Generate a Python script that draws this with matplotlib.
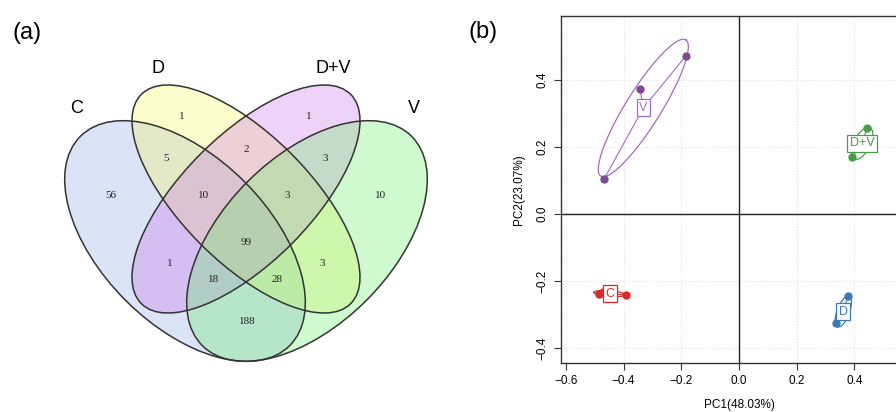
import matplotlib.pyplot as plt
from matplotlib.patches import Ellipse
import numpy as np

# ---- data ----
# venn set names and region counts
set_names = ["C", "D", "D+V", "V"]
region_keys = ["C", "D", "DV", "V", "CD", "DDV", "DVV", "CDDV", "DDVV",
               "CDDVV", "CDV", "DV_V", "CDVV", "CDV_V", "CV"]
region_counts = [56, 1, 1, 10, 5, 2, 3, 10, 3, 99, 1, 3, 18, 28, 188]

# PCA scores per group
groups = ["V", "D+V", "C", "D"]
pc1 = {"V": [-0.468, -0.343, -0.184],
       "D+V": [0.392, 0.444, 0.445],
       "C": [-0.486, -0.470, -0.390],
       "D": [0.336, 0.370, 0.378]}
pc2 = {"V": [0.104, 0.373, 0.472],
       "D+V": [0.170, 0.257, 0.205],
       "C": [-0.238, -0.233, -0.242],
       "D": [-0.326, -0.305, -0.244]}
pc1_label = "PC1(48.03%)"
pc2_label = "PC2(23.07%)"

# ---- layout / style ----
W, H = 896, 412
fig = plt.figure(figsize=(W / 100, H / 100), dpi=100)

# panel (a) in pixel coordinates
axa = fig.add_axes([0, 0, 450 / W, 1])
axa.set_xlim(0, 450)
axa.set_ylim(H, 0)
axa.axis("off")

venn_fill = ["#8aa5e4", "#f8f858", "#ca6ceb", "#62f062"]
# (cx, cy, width, height, angle) in pixel space
venn_shape = [(185, 241, 296, 168, 45),
              (246, 199, 296, 128, 45),
              (246, 199, 296, 128, -45),
              (307, 241, 296, 168, -45)]
for (cx, cy, w, h, ang), col in zip(venn_shape, venn_fill):
    axa.add_patch(Ellipse((cx, cy), w, h, angle=ang, facecolor=col, alpha=0.3,
                          edgecolor="none"))
for (cx, cy, w, h, ang) in venn_shape:
    axa.add_patch(Ellipse((cx, cy), w, h, angle=ang, facecolor="none",
                          edgecolor="#333333", lw=1.1))

region_pos = {"C": (111, 195), "D": (182, 116), "DV": (309, 116), "V": (381, 195),
              "CD": (166, 158), "DDV": (246, 149), "DVV": (325, 158),
              "CDDV": (204, 195), "DDVV": (287, 195), "CDDVV": (246, 242),
              "CDV": (170, 263), "DV_V": (322, 263), "CDVV": (214, 280),
              "CDV_V": (277, 280), "CV": (247, 322)}
for key, n in zip(region_keys, region_counts):
    x, y = region_pos[key]
    axa.text(x, y, str(n), ha="center", va="center", fontsize=8,
             family="Liberation Serif", color="#222222")

set_pos = [(77, 108), (158, 68), (333, 68), (414, 108)]
for name, (x, y) in zip(set_names, set_pos):
    axa.text(x, y, name, ha="center", va="center", fontsize=13,
             family="Liberation Sans")
axa.text(27, 33, "(a)", ha="center", va="center", fontsize=17, family="Liberation Sans")

# panel (b)
left, right, top, bottom = 561, 917, 16, 363
axb = fig.add_axes([left / W, 1 - bottom / H, (right - left) / W, (bottom - top) / H])
axb.set_xlim(-0.617, 0.617)
axb.set_ylim(-0.445, 0.591)

colors = {"V": "#7d4c90", "D+V": "#4a9c48", "C": "#d42a2a", "D": "#3c78b4"}
ell_colors = {"V": "#a26cbf", "D+V": "#4a9c48", "C": "#d42a2a", "D": "#3c78b4"}

xt = [-0.6, -0.4, -0.2, 0.0, 0.2, 0.4]
yt = [-0.4, -0.2, 0.0, 0.2, 0.4]
for v in xt:
    axb.axvline(v, color="#e2e2e2", lw=0.8, ls=":", zorder=0)
for v in yt:
    axb.axhline(v, color="#e2e2e2", lw=0.8, ls=":", zorder=0)
axb.axvline(0, color="#222222", lw=1.0, zorder=1)
axb.axhline(0, color="#222222", lw=1.0, zorder=1)

for g in groups:
    x = np.array(pc1[g])
    y = np.array(pc2[g])
    mx, my = x.mean(), y.mean()
    cov = np.cov(x, y)
    vals, vecs = np.linalg.eigh(cov)
    ang = np.arctan2(vecs[1, 1], vecs[0, 1])
    t = np.linspace(0, 2 * np.pi, 200)
    a = 1.07 * np.sqrt(vals[1])
    b = 1.45 * np.sqrt(max(vals[0], 1e-6)) + 0.004
    ex = mx + a * np.cos(t) * np.cos(ang) - b * np.sin(t) * np.sin(ang)
    ey = my + a * np.cos(t) * np.sin(ang) + b * np.sin(t) * np.cos(ang)
    axb.plot(ex, ey, color=ell_colors[g], lw=0.9, zorder=2)
    for xi, yi in zip(x, y):
        axb.plot([mx, xi], [my, yi], color=ell_colors[g], lw=0.8, zorder=2)
    axb.plot(x, y, "o", color=colors[g], ms=5, zorder=3)
    axb.text(mx, my, g, ha="center", va="center", fontsize=9, color=ell_colors[g],
             family="Liberation Sans", zorder=4,
             bbox=dict(boxstyle="square,pad=0.2", fc="white", ec=ell_colors[g], lw=0.9))

axb.set_xticks(xt)
axb.set_yticks(yt)
axb.set_xticklabels(["\u22120.6", "\u22120.4", "\u22120.2", "0.0", "0.2", "0.4"],
                    family="Liberation Sans", fontsize=8.5)
axb.set_yticklabels(["\u22120.4", "\u22120.2", "0.0", "0.2", "0.4"],
                    family="Liberation Sans", fontsize=8.5, rotation=90, va="center")
axb.tick_params(direction="out", length=5, width=0.8, color="#333333", pad=4)
axb.set_xlabel(pc1_label, family="Liberation Sans", fontsize=8.5, labelpad=8)
axb.set_ylabel(pc2_label, family="Liberation Sans", fontsize=8.5, labelpad=8)
for s in axb.spines.values():
    s.set_color("#333333")
    s.set_linewidth(1.0)

fig.text(483 / W, 1 - 32 / H, "(b)", ha="center", va="center", fontsize=17,
         family="Liberation Sans")

fig.savefig("out.png", dpi=100)
